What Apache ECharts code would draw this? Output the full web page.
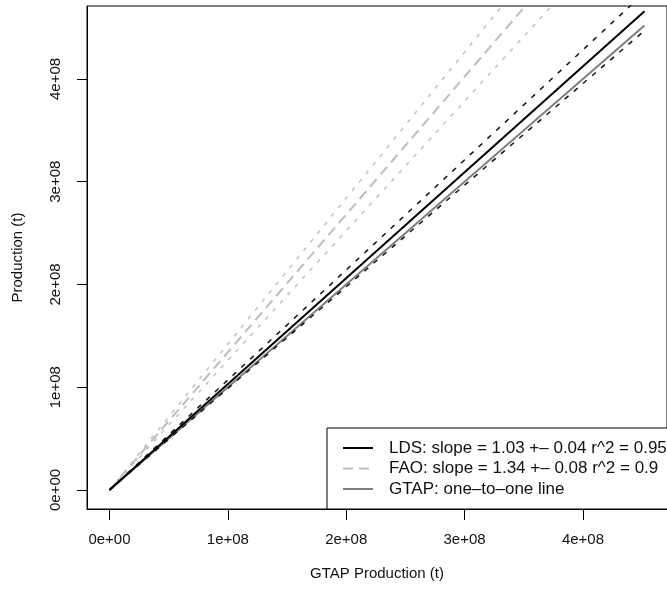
<!DOCTYPE html>
<html>
<head>
<meta charset="utf-8">
<title>Production vs GTAP Production</title>
<script src="https://cdn.jsdelivr.net/npm/echarts@6/dist/echarts.min.js"></script>
<style>
  html, body { margin: 0; padding: 0; background: #fff; }
  #container { width: 667px; height: 596px; }
</style>
</head>
<body>
<div id="container"></div>
<script>
// tick positions and labels (same on both axes)
var tickValues = [0, 1e8, 2e8, 3e8, 4e8];
var tickLabels = ['0e+00', '1e+08', '2e+08', '3e+08', '4e+08'];

// fitted lines as [x, y] end points
var ldsLine = [[0, 0], [4.52e8, 4.66e8]];
var ldsUpper = [[0, 0], [4.52e8, 4.84e8]];
var ldsLower = [[0, 0], [4.52e8, 4.47e8]];
var faoLine = [[0, 0], [4.52e8, 6.06e8]];
var faoUpper = [[0, 0], [4.52e8, 6.42e8]];
var faoLower = [[0, 0], [4.52e8, 5.70e8]];
var gtapLine = [[0, 0], [4.52e8, 4.52e8]];

var legendNames = [
    'LDS: slope = 1.03 +\u2013 0.04 r^2 = 0.95',
    'FAO: slope = 1.34 +\u2013 0.08 r^2 = 0.9',
    'GTAP: one\u2013to\u2013one line'
];

var myChart = echarts.init(document.getElementById('container'));

var font = 'Liberation Sans, Arial, Helvetica, sans-serif';

function tickText(value) {
    var i = tickValues.indexOf(value);
    return i >= 0 ? tickLabels[i] : '';
}

function lineSeries(name, data, color, width, dash) {
    return {
        name: name,
        type: 'line',
        data: data,
        symbol: 'none',
        silent: true,
        animation: false,
        lineStyle: {color: color, width: width, type: dash},
        itemStyle: {color: color}
    };
}

function axisCommon(name, gap, tickLen, margin, rotate) {
    return {
        type: 'value',
        name: name,
        nameLocation: 'middle',
        nameGap: gap,
        nameTextStyle: {fontFamily: font, fontSize: 15, color: '#111'},
        axisLine: {show: true, onZero: false, lineStyle: {color: '#000', width: 1}},
        splitLine: {show: false},
        axisTick: {
            show: true,
            length: tickLen,
            customValues: tickValues,
            lineStyle: {color: '#000', width: 1}
        },
        axisLabel: {
            customValues: tickValues,
            rotate: rotate,
            margin: margin,
            fontFamily: font,
            fontSize: 15,
            color: '#111',
            formatter: tickText
        }
    };
}

var xAxis = axisCommon('GTAP Production (t)', 57, 11, 23, 0);
xAxis.min = -0.19e8;
xAxis.max = 4.71e8;

var yAxis = axisCommon('Production (t)', 62, 10, 24, 90);
yAxis.min = -0.185e8;
yAxis.max = 4.71e8;

var option = {
    backgroundColor: '#fff',
    animation: false,
    grid: {
        left: 87,
        top: 6,
        width: 586,
        height: 503,
        show: true,
        borderColor: '#000',
        borderWidth: 1,
        backgroundColor: 'transparent'
    },
    legend: {
        data: legendNames,
        orient: 'vertical',
        left: 327,
        top: 428,
        padding: [11.5, 60, 11.5, 15],
        itemWidth: 30,
        itemHeight: 17,
        itemGap: 3.5,
        borderColor: '#000',
        borderWidth: 1,
        backgroundColor: '#fff',
        selectedMode: false,
        itemStyle: {opacity: 0},
        textStyle: {
            fontFamily: font,
            fontSize: 17,
            color: '#111',
            padding: [0, 0, 0, 11]
        }
    },
    xAxis: xAxis,
    yAxis: yAxis,
    series: [
        lineSeries('faoUpper', faoUpper, '#c4c4c4', 1.6, [4, 7]),
        lineSeries('faoLower', faoLower, '#c4c4c4', 1.6, [4, 7]),
        lineSeries(legendNames[1], faoLine, '#bdbdbd', 2, [10, 6]),
        lineSeries(legendNames[2], gtapLine, '#7f7f7f', 2, 'solid'),
        lineSeries('ldsUpper', ldsUpper, '#111', 1.5, [5, 7]),
        lineSeries('ldsLower', ldsLower, '#111', 1.5, [5, 7]),
        lineSeries(legendNames[0], ldsLine, '#000', 2, 'solid')
    ]
};

myChart.setOption(option);
</script>
</body>
</html>
